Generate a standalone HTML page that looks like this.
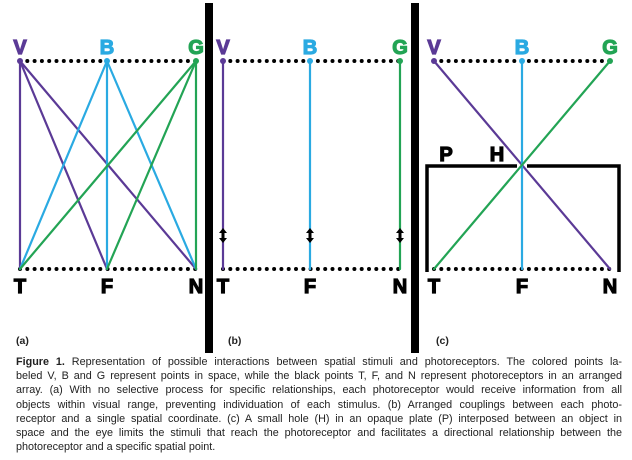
<!DOCTYPE html>
<html><head><meta charset="utf-8"><style>
html,body{margin:0;padding:0;background:#fff;width:632px;height:460px;overflow:hidden}
.cap{position:absolute;left:16px;top:355px;width:606px;font-family:"Liberation Sans",sans-serif;font-size:10.8px;line-height:14.2px;color:#222}
.cap div{text-align:justify;text-align-last:justify;white-space:nowrap}
.cap div.l{text-align-last:left}
</style></head><body>
<svg width="632" height="460" style="position:absolute;left:0;top:0" font-family="Liberation Sans, sans-serif" font-weight="bold">
<rect x="205" y="3" width="8" height="350" fill="#000"/>
<rect x="411" y="3" width="8" height="350" fill="#000"/>
<g stroke-linecap="round" fill="none">
<g stroke="#000" stroke-width="4" stroke-dasharray="0 7.3">
<line x1="20" y1="61" x2="196" y2="61"/><line x1="20" y1="269" x2="196" y2="269"/>
<line x1="223" y1="61" x2="400" y2="61"/><line x1="223" y1="269" x2="400" y2="269"/>
<line x1="434" y1="61" x2="610" y2="61"/><line x1="434" y1="269" x2="610" y2="269"/>
</g>
<g stroke-width="2.2">
<g stroke="#5b3a96"><line x1="20" y1="61" x2="20" y2="269"/><line x1="20" y1="61" x2="107" y2="269"/><line x1="20" y1="61" x2="196" y2="269"/></g>
<g stroke="#2aaae2"><line x1="107" y1="61" x2="20" y2="269"/><line x1="107" y1="61" x2="107" y2="269"/><line x1="107" y1="61" x2="196" y2="269"/></g>
<g stroke="#23a455"><line x1="196" y1="61" x2="20" y2="269"/><line x1="196" y1="61" x2="107" y2="269"/><line x1="196" y1="61" x2="196" y2="269"/></g>
<line x1="223" y1="61" x2="223" y2="269" stroke="#5b3a96"/>
<line x1="310" y1="61" x2="310" y2="269" stroke="#2aaae2"/>
<line x1="400" y1="61" x2="400" y2="269" stroke="#23a455"/>
<line x1="434" y1="61" x2="610" y2="269" stroke="#5b3a96"/>
<line x1="522" y1="61" x2="522" y2="269" stroke="#2aaae2"/>
<line x1="610" y1="61" x2="434" y2="269" stroke="#23a455"/>
</g>
<path d="M427 272 V166 H517 M527 166 H619 V272" stroke="#000" stroke-width="3.5" stroke-linecap="butt"/>
</g>
<g>
<circle cx="20" cy="61" r="3" fill="#5b3a96"/><circle cx="107" cy="61" r="3" fill="#2aaae2"/><circle cx="196" cy="61" r="3" fill="#23a455"/>
<circle cx="223" cy="61" r="3" fill="#5b3a96"/><circle cx="310" cy="61" r="3" fill="#2aaae2"/><circle cx="400" cy="61" r="3" fill="#23a455"/>
<circle cx="434" cy="61" r="3" fill="#5b3a96"/><circle cx="522" cy="61" r="3" fill="#2aaae2"/><circle cx="610" cy="61" r="3" fill="#23a455"/>
</g>
<g fill="#000">
<path d="M219 233 L223 228 L227 233 Z M219 238 L223 243 L227 238 Z"/><rect x="221.5" y="232" width="3" height="7"/>
<path d="M306 233 L310 228 L314 233 Z M306 238 L310 243 L314 238 Z"/><rect x="308.5" y="232" width="3" height="7"/>
<path d="M396 233 L400 228 L404 233 Z M396 238 L400 243 L404 238 Z"/><rect x="398.5" y="232" width="3" height="7"/>
</g>
<g font-size="20" text-anchor="middle" stroke-width="1.2">
<text x="20" y="54" fill="#5b3a96" stroke="#5b3a96">V</text><text x="107" y="54" fill="#2aaae2" stroke="#2aaae2">B</text><text x="196" y="54" fill="#23a455" stroke="#23a455">G</text>
<text x="223" y="54" fill="#5b3a96" stroke="#5b3a96">V</text><text x="310" y="54" fill="#2aaae2" stroke="#2aaae2">B</text><text x="400" y="54" fill="#23a455" stroke="#23a455">G</text>
<text x="434" y="54" fill="#5b3a96" stroke="#5b3a96">V</text><text x="522" y="54" fill="#2aaae2" stroke="#2aaae2">B</text><text x="610" y="54" fill="#23a455" stroke="#23a455">G</text>
<g fill="#000" stroke="#000">
<text x="20" y="293">T</text><text x="107" y="293">F</text><text x="196" y="293">N</text>
<text x="223" y="293">T</text><text x="310" y="293">F</text><text x="400" y="293">N</text>
<text x="434" y="293">T</text><text x="522" y="293">F</text><text x="610" y="293">N</text>
<text x="446" y="161">P</text><text x="497" y="161">H</text>
</g>
</g>
<g font-size="10.5" fill="#222">
<text x="16" y="344">(a)</text><text x="228" y="344">(b)</text><text x="436" y="344">(c)</text>
</g>
</svg>
<div class="cap">
<div><b>Figure 1.</b> Representation of possible interactions between spatial stimuli and photoreceptors. The colored points la-</div>
<div>beled V, B and G represent points in space, while the black points T, F, and N represent photoreceptors in an arranged</div>
<div>array. (a) With no selective process for specific relationships, each photoreceptor would receive information from all</div>
<div>objects within visual range, preventing individuation of each stimulus. (b) Arranged couplings between each photo-</div>
<div>receptor and a single spatial coordinate. (c) A small hole (H) in an opaque plate (P) interposed between an object in</div>
<div>space and the eye limits the stimuli that reach the photoreceptor and facilitates a directional relationship between the</div>
<div class="l">photoreceptor and a specific spatial point.</div>
</div>
</body></html>
